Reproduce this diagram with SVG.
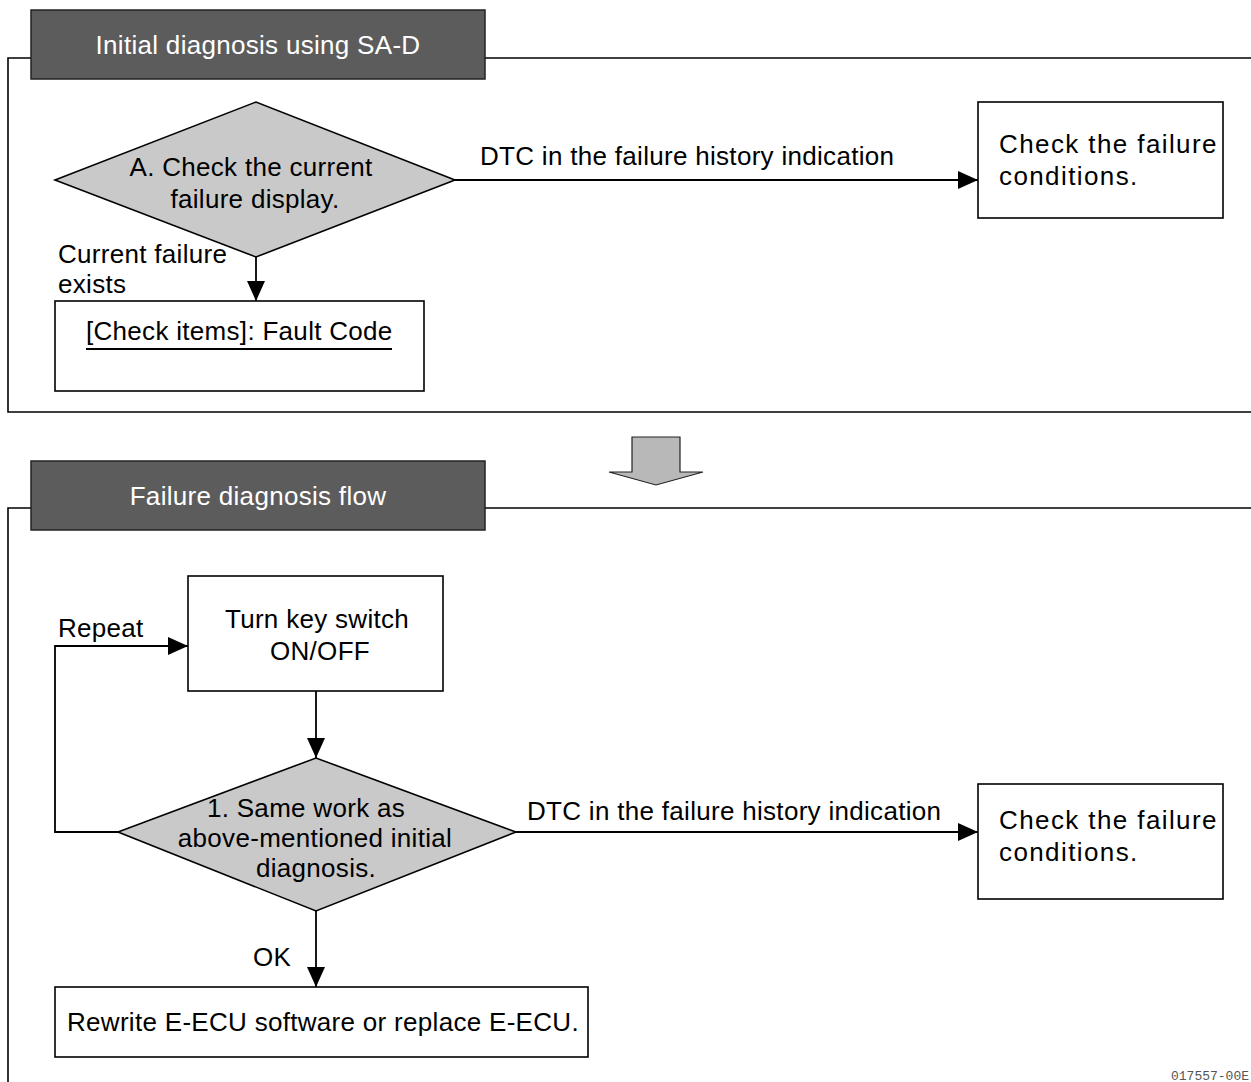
<svg xmlns="http://www.w3.org/2000/svg" width="1251" height="1082" viewBox="0 0 1251 1082">
  <style>
    text { font-family: "Liberation Sans", Arial, sans-serif; font-size: 26px; fill: #000; letter-spacing: 0.3px; }
    .hdr { fill: #5c5c5c; stroke: #222; stroke-width: 1.5; }
    .hdr-t { fill: #fff; text-anchor: middle; }
    .frame { fill: none; stroke: #000; stroke-width: 1.6; }
    .box { fill: #fff; stroke: #000; stroke-width: 1.6; }
    .dia { fill: #c9c9c9; stroke: #000; stroke-width: 1.6; }
    .mid { text-anchor: middle; }
    .wide { letter-spacing: 1.4px; }
    .conn { fill: none; stroke: #000; stroke-width: 1.8; }
    .code { font-family: "Liberation Mono", "Courier New", monospace; font-size: 13px; fill: #555; letter-spacing: 0; }
  </style>
  <defs>
    <marker id="arr" viewBox="0 0 20 18" refX="20" refY="9" markerWidth="20" markerHeight="18" markerUnits="userSpaceOnUse" orient="auto">
      <path d="M0,0 L20,9 L0,18 Z" fill="#000"/>
    </marker>
  </defs>

  <rect width="1251" height="1082" fill="#fff"/>

  <!-- Section 1 frame -->
  <g id="frame-initial">
    <path class="frame" d="M31,58 H8 V412 H1251"/>
    <path class="frame" d="M485,58 H1251"/>
  </g>
  <g id="header-initial">
    <rect class="hdr" x="31" y="10" width="454" height="69"/>
    <text class="hdr-t" x="258" y="54">Initial diagnosis using SA-D</text>
  </g>

  <!-- Section 2 frame -->
  <g id="frame-flow">
    <path class="frame" d="M31,508 H8 V1082"/>
    <path class="frame" d="M485,508 H1251"/>
  </g>
  <g id="header-flow">
    <rect class="hdr" x="31" y="461" width="454" height="69"/>
    <text class="hdr-t" x="258" y="505">Failure diagnosis flow</text>
  </g>

  <!-- Block arrow between sections -->
  <g id="transition-arrow">
    <path d="M632,437 H680 V472 H703 L656,485 L609,472 H632 Z" fill="#b8b8b8" stroke="#222" stroke-width="1.2"/>
  </g>

  <!-- Connectors -->
  <g id="connectors">
    <line class="conn" x1="455" y1="180" x2="978" y2="180" marker-end="url(#arr)"/>
    <line class="conn" x1="256" y1="257" x2="256" y2="301" marker-end="url(#arr)"/>
    <polyline class="conn" points="118,832 55,832 55,646 188,646" marker-end="url(#arr)"/>
    <line class="conn" x1="316" y1="691" x2="316" y2="758" marker-end="url(#arr)"/>
    <line class="conn" x1="516" y1="832" x2="978" y2="832" marker-end="url(#arr)"/>
    <line class="conn" x1="316" y1="911" x2="316" y2="987" marker-end="url(#arr)"/>
    <text x="480" y="165">DTC in the failure history indication</text>
    <text x="58" y="263">Current failure</text>
    <text x="58" y="293">exists</text>
    <text x="58" y="637">Repeat</text>
    <text x="527" y="820">DTC in the failure history indication</text>
    <text x="253" y="966">OK</text>
  </g>

  <!-- Nodes -->
  <g id="decision-a">
    <polygon class="dia" points="55,180 256,102 455,180 256,257"/>
    <text class="mid" x="251" y="176">A. Check the current</text>
    <text class="mid" x="255" y="208">failure display.</text>
  </g>
  <g id="check-conditions-1">
    <rect class="box" x="978" y="102" width="245" height="116"/>
    <text class="wide" x="999" y="153">Check the failure</text>
    <text class="wide" x="999" y="185">conditions.</text>
  </g>
  <g id="check-items">
    <rect class="box" x="55" y="301" width="369" height="90"/>
    <text x="86" y="340">[Check items]: Fault Code</text>
    <line x1="86" y1="349" x2="392" y2="349" stroke="#000" stroke-width="1.8"/>
  </g>
  <g id="key-switch">
    <rect class="box" x="188" y="576" width="255" height="115"/>
    <text class="mid" x="317" y="628">Turn key switch</text>
    <text class="mid" x="320" y="660">ON/OFF</text>
  </g>
  <g id="decision-1">
    <polygon class="dia" points="118,832 316,758 516,832 316,911"/>
    <text class="mid" x="306" y="817">1. Same work as</text>
    <text class="mid" x="315" y="847">above-mentioned initial</text>
    <text class="mid" x="316" y="877">diagnosis.</text>
  </g>
  <g id="check-conditions-2">
    <rect class="box" x="978" y="784" width="245" height="115"/>
    <text class="wide" x="999" y="829">Check the failure</text>
    <text class="wide" x="999" y="861">conditions.</text>
  </g>
  <g id="rewrite-ecu">
    <rect class="box" x="55" y="987" width="533" height="70"/>
    <text x="67" y="1031">Rewrite E-ECU software or replace E-ECU.</text>
  </g>

  <text class="code" x="1171" y="1080">017557-00E</text>
</svg>
